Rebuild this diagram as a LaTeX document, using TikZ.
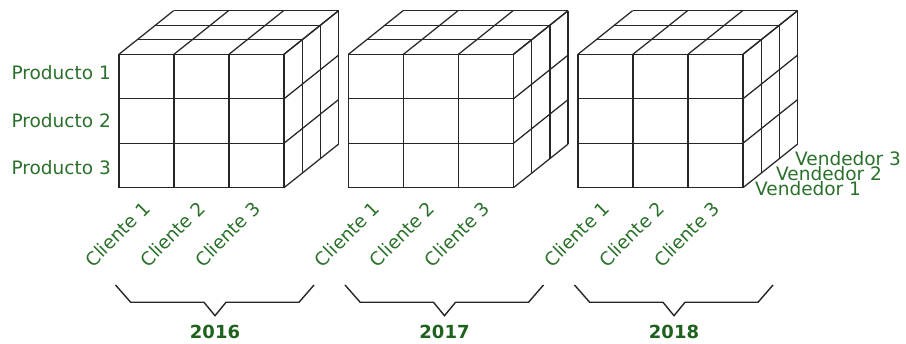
\documentclass[tikz,border=0pt]{standalone}
\usepackage{fontspec}
\setmainfont{DejaVu Sans}
\usepackage{tikz}
\definecolor{labelgreen}{RGB}{42,112,42}
\definecolor{yeargreen}{RGB}{30,98,30}

\begin{document}
\begin{tikzpicture}[x=1pt, y=1pt,
    cubeline/.style={line width=1.25pt, black!85},
    braceline/.style={line width=1.4pt, black!85, line join=miter},
    dimlabel/.style={text=labelgreen, inner sep=1pt, font=\fontsize{18.5}{22}\selectfont},
    yearlabel/.style={text=yeargreen, inner sep=1pt, font=\fontsize{18}{22}\selectfont\bfseries}]
    \useasboundingbox (0,0) rectangle (906,344);

    % Cubos por anio
    \foreach \xo/\yr in {119/2016, 348.5/2017, 578/2018} {
        % cara frontal, superior y lateral
        \foreach \i in {0,...,3} {
            \draw[cubeline] (\xo+55*\i, 156.3) -- ++(0, 133.4);
            \draw[cubeline] (\xo, 156.3+44.47*\i) -- ++(165, 0);
            \draw[cubeline] (\xo+55*\i, 289.7) -- ++(54.6, 43.65);
            \draw[cubeline] (\xo+165, 156.3+44.47*\i) -- ++(54.6, 43.65);
        }
        \foreach \k in {1,2,3} {
            \draw[cubeline] (\xo+18.2*\k, 289.7+14.55*\k) -- ++(165, 0);
            \draw[cubeline] (\xo+165+18.2*\k, 156.3+14.55*\k) -- ++(0, 133.4);
        }
        % Clientes
        \foreach \i in {1,2,3}
            \node[dimlabel, rotate=45, anchor=east] (cli\yr-\i) at (\xo+55*\i-27.5+1, 140) {Cliente \i};
        % Llave y anio
        \draw[braceline] (\xo-3.5, 59) -- (\xo+11.7, 41.7) -- (\xo+85, 41.7)
            -- (\xo+96, 28.3) -- (\xo+107, 41.7) -- (\xo+180, 41.7) -- (\xo+195, 59);
        \node[yearlabel] (year\yr) at (\xo+96, 12.5) {\yr};
    }

    % Productos
    \node[dimlabel, anchor=east] (prod1) at (112, 271) {Producto 1};
    \node[dimlabel, anchor=east] (prod2) at (112, 223.5) {Producto 2};
    \node[dimlabel, anchor=east] (prod3) at (112, 176) {Producto 3};

    % Vendedores
    \node[dimlabel, anchor=west] (vend1) at (754, 155.5) {Vendedor 1};
    \node[dimlabel, anchor=west] (vend2) at (775, 170.5) {Vendedor 2};
    \node[dimlabel, anchor=west] (vend3) at (794, 185.5) {Vendedor 3};
\end{tikzpicture}
\end{document}
